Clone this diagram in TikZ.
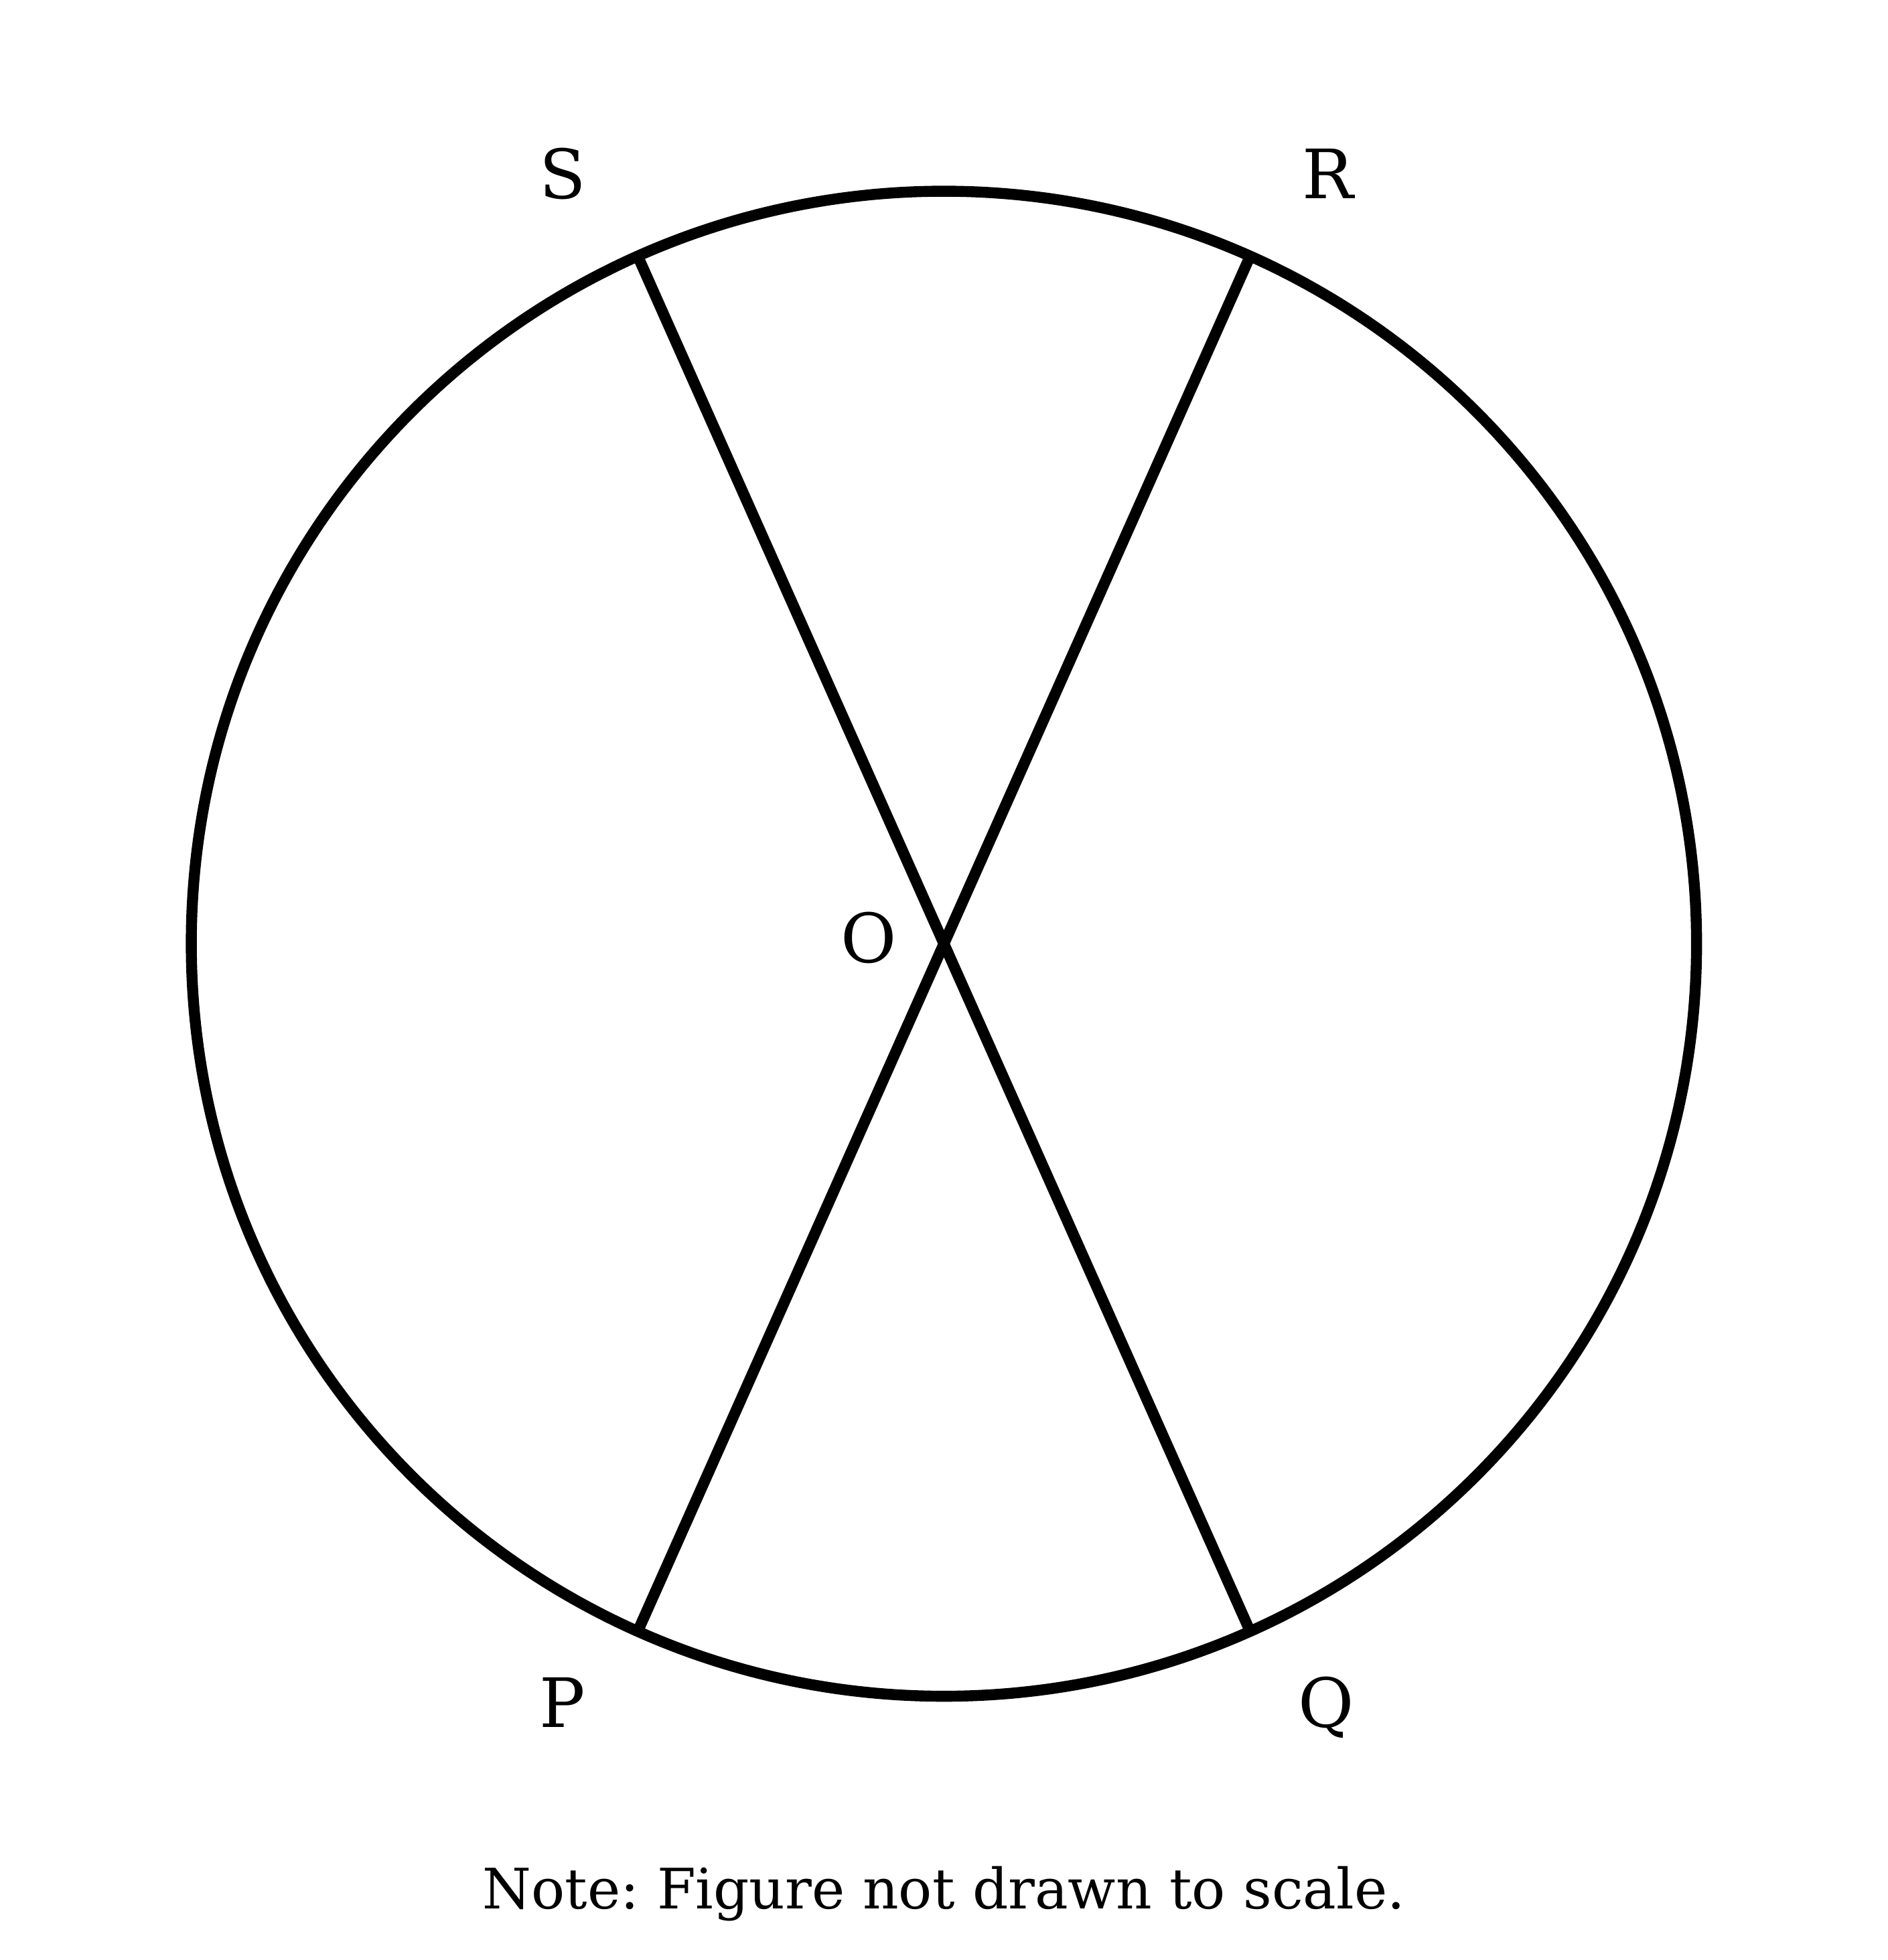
\documentclass[tikz,border=0pt]{standalone}
\usepackage{fontspec}
\setmainfont{DejaVu Serif}
\frenchspacing
\begin{document}
\begin{tikzpicture}[line width=2.5pt,
    lbl/.style={anchor=base, inner sep=0pt, font=\fontsize{15.5}{18}\selectfont},
    note/.style={anchor=base, inner sep=0pt, font=\fontsize{12.7}{15}\selectfont}]
    \useasboundingbox (0,0) rectangle (15.10,15.68);
    % Circle with centre O
    \coordinate (O) at (7.55,8.13);
    \draw (O) circle[radius=6.02];
    % Chord end points on the circle
    \coordinate (S) at ([shift={(114:6.02)}]O);
    \coordinate (R) at ([shift={(66:6.02)}]O);
    \coordinate (P) at ([shift={(246:6.02)}]O);
    \coordinate (Q) at ([shift={(294:6.02)}]O);
    % Two diameters through O
    \draw (S)--(Q) (R)--(P);
    % Labels
    \node[lbl] (lS) at (4.50,14.09) {S};
    \node[lbl] (lR) at (10.62,14.09) {R};
    \node[lbl] (lP) at (4.50,1.86)  {P};
    \node[lbl] (lQ) at (10.61,1.86) {Q};
    \node[lbl] (lO) at (6.95,7.98)  {O};
    \node[note] (nt) at (7.55,0.41) {Note: Figure not drawn to scale.};
\end{tikzpicture}
\end{document}
